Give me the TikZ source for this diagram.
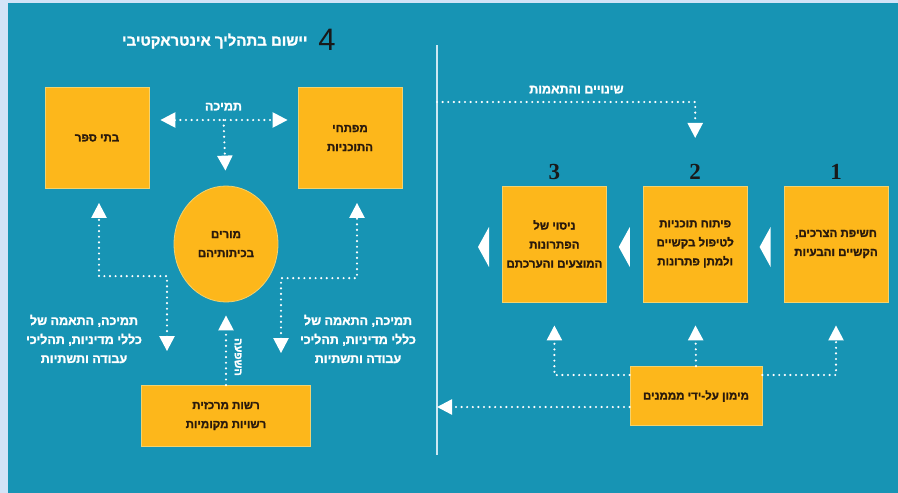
\documentclass[tikz,border=0pt]{standalone}
\usepackage{fontspec}
\setmainfont{Liberation Sans}
\newfontfamily\hebfont[Script=Hebrew, BoldFeatures={FakeBold=1.6}]{Liberation Sans}
\newfontfamily\digitfont{Liberation Serif}
\TeXXeTstate=1
\definecolor{panelbg}{HTML}{1794B4}
\definecolor{framebg}{HTML}{D2E3F7}
\definecolor{boxfill}{HTML}{FDB71B}
\definecolor{boxline}{HTML}{F3D26E}
\definecolor{darkink}{HTML}{2A1A0C}
\definecolor{divline}{HTML}{CDE7F2}
\usetikzlibrary{arrows.meta, positioning, calc, shapes.geometric}
\newcommand{\rl}[1]{\beginR #1\endR}
\newcommand{\leftchev}[1]{\fill[white] ([xshift=-24pt,yshift=-3pt]#1.west) -- ++(11,-20) -- ++(0,40) -- cycle;}
\tikzset{
  box/.style={
    draw=boxline, fill=boxfill, line width=0.8pt,
    minimum width=104pt, minimum height=#1, inner sep=2pt,
    font=\hebfont\bfseries\fontsize{11.5}{19}\selectfont,
    text=darkink, align=center
  },
  box/.default=101pt,
  lbl/.style={font=\hebfont\bfseries\fontsize{12.5}{19}\selectfont, text=white, align=center},
  num/.style={font=\digitfont\bfseries\fontsize{23}{23}\selectfont, text=black!90, inner sep=0pt},
  dots/.style={draw=white, line width=2.4pt, line cap=round, dash pattern=on 0pt off 5.6pt},
  arr/.style={dots, -{Triangle[length=15pt,width=15pt]}},
  darr/.style={dots, {Triangle[length=15pt,width=15pt]}-{Triangle[length=15pt,width=15pt]}},
}

\begin{document}
\begin{tikzpicture}[x=1pt, y=-1pt]
    \useasboundingbox (0,0) rectangle (898,493);
    \fill[framebg] (0,0) rectangle (898,493);
    \fill[panelbg] (8,3) rectangle (898,493);

    \node[lbl, font=\hebfont\bfseries\fontsize{15}{15}\selectfont, anchor=east] (ttl) at (311,41)
      {\rl{יישום בתהליך אינטראקטיבי}};
    \node[font=\fontsize{31}{31}\selectfont, text=black!90, inner sep=0pt] (four) at (327,40) {4};

    \node[box] (school) at (97,138) {\rl{בתי ספר}};
    \node[box] (dev) at (350,138) {\rl{מפתחי}\\\rl{התוכניות}};
    \node[box=116pt, ellipse, minimum width=104pt] (teach) at (226,244)
      {\rl{מורים}\\\rl{בכיתותיהם}};
    \node[box=61pt, minimum width=169pt] (auth) at (226,416)
      {\rl{רשות מרכזית}\\\rl{רשויות מקומיות}};

    \node[lbl] (supL) at (84,339)
      {\rl{תמיכה, התאמה של}\\\rl{כללי מדיניות, תהליכי}\\\rl{עבודה ותשתיות}};
    \node[lbl] (supR) at (358,339)
      {\rl{תמיכה, התאמה של}\\\rl{כללי מדיניות, תהליכי}\\\rl{עבודה ותשתיות}};

    \draw[darr, shorten <=11pt, shorten >=10pt] ([yshift=18pt]school.east)
      -- node[lbl, midway, above=5pt] (suptop) {\rl{תמיכה}}
         coordinate[midway] (mid) ([yshift=18pt]dev.west);
    \draw[arr, shorten >=15pt] (mid) -- (teach.north);

    \draw[darr, shorten <=34pt, shorten >=14pt] ([xshift=-59pt]auth.north)
      -- ++(0,-109) -| ([xshift=2pt]school.south);
    \draw[darr, shorten <=32pt, shorten >=14pt] ([xshift=55pt]auth.north)
      -- ++(0,-107) -| ([xshift=7pt]dev.south);
    \draw[arr, shorten >=13pt] (auth.north) -- (teach.south);
    \node[lbl, font=\hebfont\bfseries\fontsize{11}{11}\selectfont, rotate=-90] (infl) at (238,357)
      {\rl{השפעה}};

    \draw[divline, line width=1.5pt] (437,45) coordinate (divtop) -- (437,455) coordinate (divbot);
    \coordinate (chg) at (437,102);
    \coordinate (fundout) at (437,407);

    \node[box=116pt] (step1) at (836,244) {\rl{חשיפת הצרכים,}\\\rl{הקשיים והבעיות}};
    \node[box=116pt, left=36pt of step1] (step2)
      {\rl{פיתוח תוכניות}\\\rl{לטיפול בקשיים}\\\rl{ולמתן פתרונות}};
    \node[box=116pt, left=36pt of step2] (step3)
      {\rl{ניסוי של}\\\rl{הפתרונות}\\\rl{המוצעים והערכתם}};

    \node[num, above=6pt of step1] (n1) {1};
    \node[num, above=6pt of step2] (n2) {2};
    \node[num, above=6pt of step3] (n3) {3};

    \leftchev{step1}
    \leftchev{step2}
    \leftchev{step3}

    \draw[arr, shorten >=26pt] (chg)
      -| node[lbl, pos=0.27, above=4pt] (chglbl) {\rl{שינויים והתאמות}} (n2.north);

    \node[box=59pt, minimum width=132pt] (fund) at (696,396) {\rl{מימון על-ידי מממנים}};

    \draw[arr, shorten >=23pt] (fund.north) -- (step2.south);
    \draw[arr, shorten >=23pt] ([yshift=21pt]fund.west) -| (step3.south);
    \draw[arr, shorten >=23pt] ([yshift=21pt]fund.east) -| (step1.south);
    \draw[arr] ([yshift=-11pt]fund.west) -- (fundout);
  \end{tikzpicture}
\end{document}
